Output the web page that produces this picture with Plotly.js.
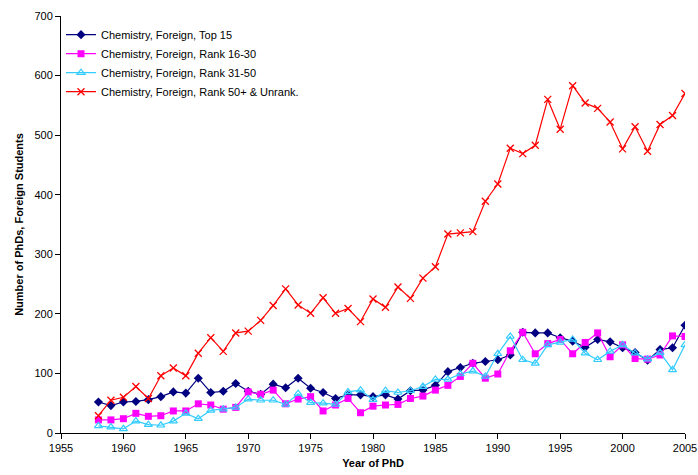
<!DOCTYPE html>
<html>
<head>
<meta charset="utf-8">
<script src="https://cdn.plot.ly/plotly-3.0.1.min.js"></script>
<style>html,body{margin:0;padding:0;background:#fff;}#chart{width:698px;height:475px;}</style>
</head>
<body>
<div id="chart"></div>
<script>
const years = [1958,1959,1960,1961,1962,1963,1964,1965,1966,1967,1968,1969,1970,1971,1972,1973,1974,1975,1976,1977,1978,1979,1980,1981,1982,1983,1984,1985,1986,1987,1988,1989,1990,1991,1992,1993,1994,1995,1996,1997,1998,1999,2000,2001,2002,2003,2004,2005];
const top15 = [52,46,52,53,56,61,69,67,92,68,70,83,70,65,82,76,92,75,68,58,64,64,61,64,57,71,72,80,103,110,117,120,123,131,169,168,168,160,154,144,157,153,143,135,122,140,143,181];
const rank16_30 = [22,22,24,33,28,29,37,37,49,47,40,43,69,65,72,49,57,61,37,47,58,34,45,47,48,58,62,72,80,95,117,92,99,138,169,133,150,157,133,152,168,128,148,125,124,131,163,162];
const rank31_50 = [12,10,7,20,14,13,20,33,24,38,40,43,57,55,55,48,66,51,50,48,69,72,56,71,68,71,78,90,90,99,104,95,133,162,123,117,148,152,157,134,123,137,148,134,124,135,106,148];
const rank50plus = [29,55,60,78,58,96,109,96,134,160,137,168,171,189,214,242,215,201,227,201,209,187,225,211,245,226,260,279,334,336,338,389,418,478,469,483,560,510,583,554,545,522,477,514,473,518,533,570];
const seriesNames = ["Chemistry, Foreign, Top 15","Chemistry, Foreign, Rank 16-30","Chemistry, Foreign, Rank 31-50","Chemistry, Foreign, Rank 50+ & Unrank."];
const yTicks = [0,100,200,300,400,500,600,700];
const xTicks = [1955,1960,1965,1970,1975,1980,1985,1990,1995,2000,2005];

const traces = [
  {x: years, y: top15, name: seriesNames[0], mode: 'lines+markers',
   line: {color: '#000080', width: 1.2}, marker: {symbol: 'diamond', size: 7, color: '#000080'}},
  {x: years, y: rank16_30, name: seriesNames[1], mode: 'lines+markers',
   line: {color: '#FF00FF', width: 1.2}, marker: {symbol: 'square', size: 7, color: '#FF00FF'}},
  {x: years, y: rank31_50, name: seriesNames[2], mode: 'lines+markers',
   line: {color: '#33CCFF', width: 1.2}, marker: {symbol: 'triangle-up-open', size: 7, color: '#33CCFF', line: {width: 1.2}}},
  {x: years, y: rank50plus, name: seriesNames[3], mode: 'lines+markers',
   line: {color: '#FF0000', width: 1.2}, marker: {symbol: 'x-thin-open', size: 7, color: '#FF0000', line: {width: 1.3, color: '#FF0000'}}}
];

const layout = {
  width: 698, height: 475,
  margin: {l: 61, r: 13, t: 16, b: 42},
  paper_bgcolor: '#fff', plot_bgcolor: '#fff',
  font: {family: 'Liberation Sans, Arial, sans-serif', size: 11, color: '#000'},
  showlegend: true,
  legend: {x: 0.0, y: 0.99, xanchor: 'left', yanchor: 'top', bgcolor: 'rgba(0,0,0,0)',
           font: {size: 11}, tracegroupgap: 0, itemwidth: 30},
  xaxis: {range: [1955, 2005], tickvals: xTicks, ticktext: xTicks.map(String),
          showgrid: false, zeroline: false, showline: true, linecolor: '#000', linewidth: 1,
          ticks: 'outside', ticklen: 5, tickcolor: '#000',
          title: {text: '<b>Year of PhD</b>', font: {size: 11}, standoff: 6}},
  yaxis: {range: [0, 700], tickvals: yTicks, ticktext: yTicks.map(String),
          showgrid: false, zeroline: false, showline: true, linecolor: '#000', linewidth: 1,
          ticks: 'outside', ticklen: 5, tickcolor: '#000',
          title: {text: '<b>Number of PhDs, Foreign Students</b>', font: {size: 11}, standoff: 8}}
};

Plotly.newPlot('chart', traces, layout, {displayModeBar: false, staticPlot: true});
</script>
</body>
</html>
